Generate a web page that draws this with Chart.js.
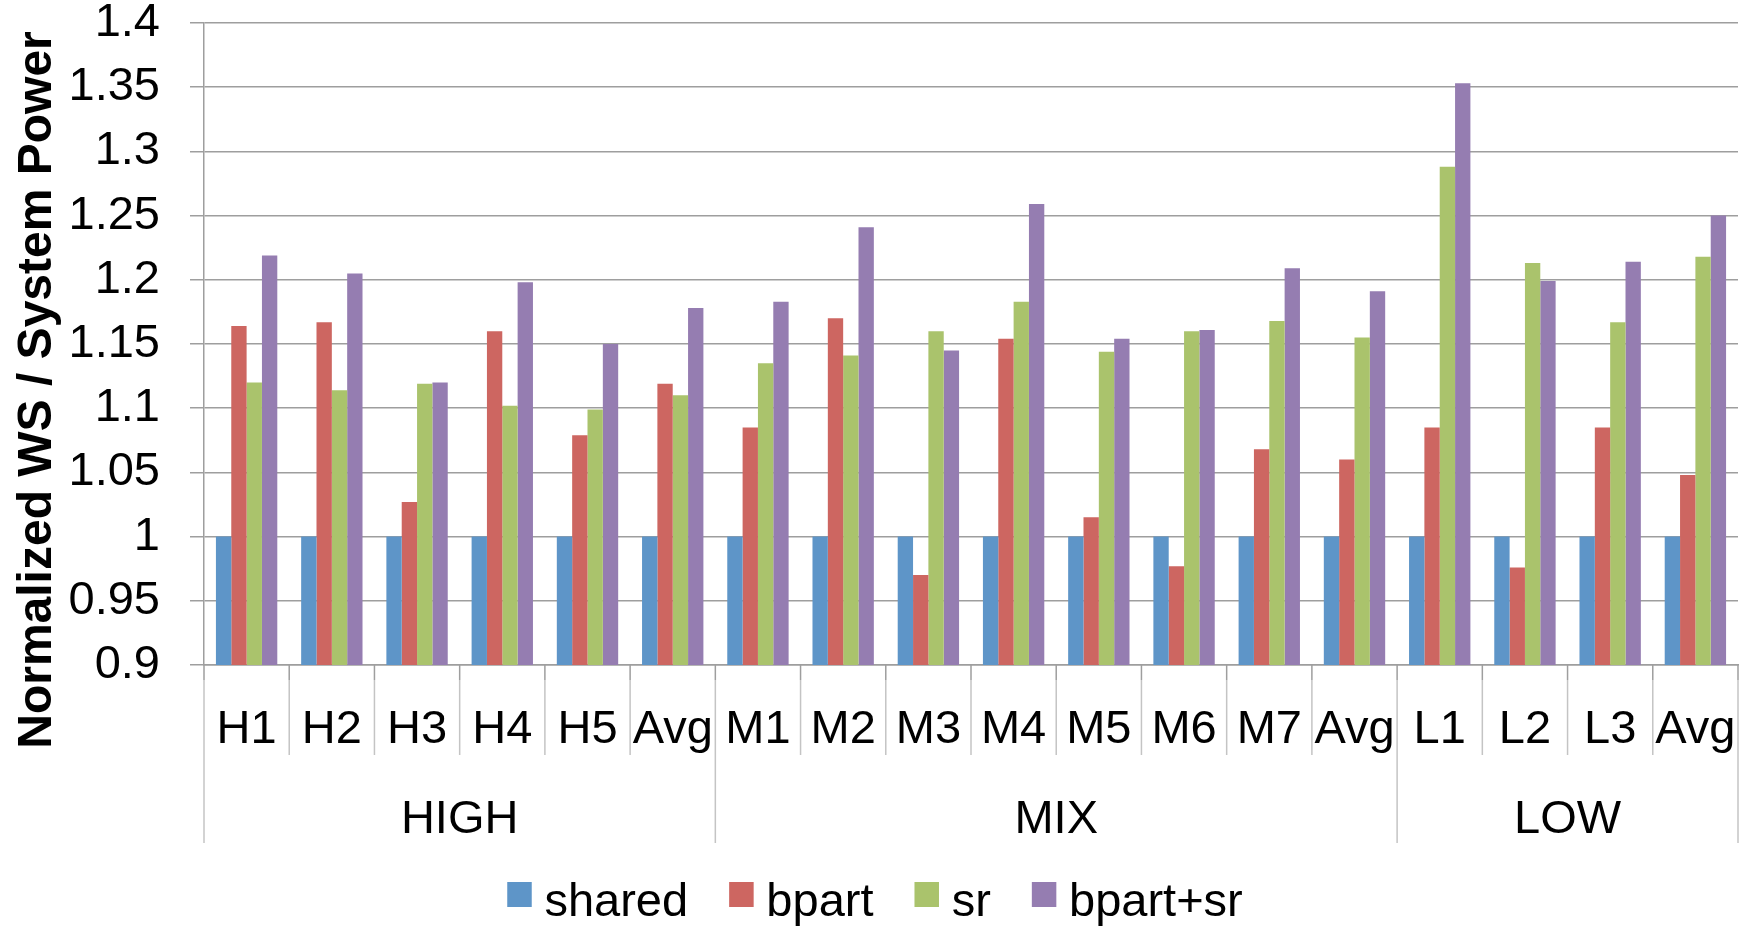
<!DOCTYPE html>
<html>
<head>
<meta charset="utf-8">
<script src="https://cdn.jsdelivr.net/npm/chart.js@4/dist/chart.umd.min.js"></script>
<style>
  html, body { margin: 0; padding: 0; background: #ffffff; }
  #wrap { width: 1750px; height: 927px; }
</style>
</head>
<body>
<div id="wrap"><canvas id="chart" width="1750" height="927"></canvas></div>
<script>
// Workload mixes and their grouping on the x axis
const categories = ['H1', 'H2', 'H3', 'H4', 'H5', 'Avg',
                    'M1', 'M2', 'M3', 'M4', 'M5', 'M6', 'M7', 'Avg',
                    'L1', 'L2', 'L3', 'Avg'];
const groupNames = ['HIGH', 'MIX', 'LOW'];
const groupSizes = [6, 8, 4];

// Normalized weighted speedup per unit of system power
const shared  = [1, 1, 1, 1, 1, 1,
                 1, 1, 1, 1, 1, 1, 1, 1,
                 1, 1, 1, 1];
const bpart   = [1.164, 1.167, 1.027, 1.160, 1.079, 1.119,
                 1.085, 1.170, 0.970, 1.154, 1.015, 0.977, 1.068, 1.060,
                 1.085, 0.976, 1.085, 1.048];
const sr      = [1.120, 1.114, 1.119, 1.102, 1.099, 1.110,
                 1.135, 1.141, 1.160, 1.183, 1.144, 1.160, 1.168, 1.155,
                 1.288, 1.213, 1.167, 1.218];
const bpartSr = [1.219, 1.205, 1.120, 1.198, 1.150, 1.178,
                 1.183, 1.241, 1.145, 1.259, 1.154, 1.161, 1.209, 1.191,
                 1.353, 1.199, 1.214, 1.250];

const seriesNames = ['shared', 'bpart', 'sr', 'bpart+sr'];
const yTickLabels = ['0.9', '0.95', '1', '1.05', '1.1', '1.15', '1.2', '1.25', '1.3', '1.35', '1.4'];
const yTitle = 'Normalized WS / System Power';

const colors = ['#5E95C8', '#CD6661', '#AAC36C', '#957DB1'];
const FONT = '"Liberation Sans", Arial, Helvetica, sans-serif';
const GRID = '#9E9E9E';
const SEP  = '#C4C4C4';

// Two-level category axis, rotated y title and the legend row
const chartDecor = {
  id: 'chartDecor',
  afterDraw(chart) {
    const { ctx, chartArea: a, scales: { x } } = chart;
    const n = categories.length;
    const edge = i => i === 0 ? a.left : i === n ? a.right
      : (x.getPixelForValue(i - 1) + x.getPixelForValue(i)) / 2;

    const groupEdges = [0];
    groupSizes.forEach(s => groupEdges.push(groupEdges[groupEdges.length - 1] + s));

    const tickBottom = a.bottom + 15;
    const catBottom = a.bottom + 90;
    const grpBottom = a.bottom + 178;

    ctx.save();
    ctx.lineWidth = 1.5;
    for (let i = 0; i <= n; i++) {
      const px = edge(i);
      const isGroup = groupEdges.includes(i);
      ctx.strokeStyle = SEP;
      ctx.beginPath();
      ctx.moveTo(px, tickBottom);
      ctx.lineTo(px, isGroup ? grpBottom : catBottom);
      ctx.stroke();
      ctx.strokeStyle = GRID;
      ctx.beginPath();
      ctx.moveTo(px, a.bottom);
      ctx.lineTo(px, tickBottom);
      ctx.stroke();
    }

    // group names under the mixes
    ctx.fillStyle = '#000000';
    ctx.font = '47px ' + FONT;
    ctx.textAlign = 'center';
    ctx.textBaseline = 'alphabetic';
    groupNames.forEach((name, g) => {
      const cx = (edge(groupEdges[g]) + edge(groupEdges[g + 1])) / 2;
      ctx.fillText(name, cx, a.bottom + 168);
    });

    // y axis title, reading bottom to top
    ctx.save();
    ctx.translate(a.left - 153, a.top + 367);
    ctx.rotate(-Math.PI / 2);
    ctx.font = 'bold 48px ' + FONT;
    ctx.textAlign = 'center';
    ctx.textBaseline = 'alphabetic';
    ctx.fillText(yTitle, 0, 0);
    ctx.restore();

    // legend: colour square, label, centred under the chart
    const box = 24.5, boxGap = 12.7, itemGap = 41;
    ctx.font = '47px ' + FONT;
    ctx.textAlign = 'left';
    const items = chart.data.datasets.map(ds => ({
      text: ds.label, color: ds.backgroundColor, w: ctx.measureText(ds.label).width
    }));
    const total = items.reduce((s, it) => s + box + boxGap + it.w, 0) + itemGap * (items.length - 1);
    let lx = chart.width / 2 - total / 2;
    const boxTop = a.bottom + 217;
    const baseY = a.bottom + 251;
    items.forEach(it => {
      ctx.fillStyle = it.color;
      ctx.fillRect(lx, boxTop, box, 25);
      ctx.fillStyle = '#000000';
      ctx.fillText(it.text, lx + box + boxGap, baseY);
      lx += box + boxGap + it.w + itemGap;
    });
    ctx.restore();
  }
};

new Chart(document.getElementById('chart'), {
  type: 'bar',
  data: {
    labels: categories,
    datasets: [shared, bpart, sr, bpartSr].map((d, i) => ({
      label: seriesNames[i],
      data: d,
      backgroundColor: colors[i],
      borderWidth: 0,
      categoryPercentage: 0.72,
      barPercentage: 1.0
    }))
  },
  options: {
    responsive: false,
    animation: false,
    devicePixelRatio: 1,
    layout: { padding: { left: 0, right: 12, top: 23, bottom: 0 } },
    plugins: {
      tooltip: { enabled: false },
      legend: { display: false }
    },
    scales: {
      x: {
        grid: { display: false, drawTicks: false },
        border: { display: true, color: GRID, width: 1.5 },
        ticks: {
          color: '#000000',
          font: { family: FONT, size: 47 },
          autoSkip: false,
          maxRotation: 0,
          minRotation: 0,
          padding: 37
        },
        afterFit(scale) {
          scale.height = 262;
          scale.paddingLeft = 0;
          scale.paddingRight = 0;
        }
      },
      y: {
        min: 0.9,
        max: 1.4,
        grid: { color: GRID, lineWidth: 1.5, tickLength: 14, drawTicks: true },
        border: { display: true, color: GRID, width: 1.5 },
        ticks: {
          stepSize: 0.05,
          color: '#000000',
          font: { family: FONT, size: 47, lineHeight: 1.0 },
          padding: 30,
          callback: (v, i) => yTickLabels[i]
        },
        afterFit(scale) {
          scale.width = 204;
          scale.paddingTop = 0;
          scale.paddingBottom = 0;
        }
      }
    }
  },
  plugins: [chartDecor]
});
</script>
</body>
</html>
